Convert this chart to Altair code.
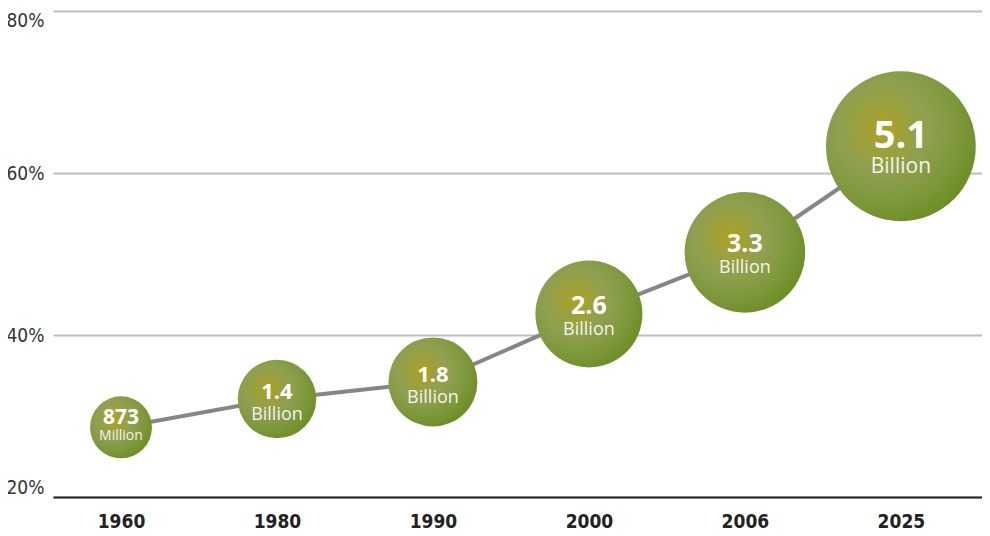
import altair as alt
import pandas as pd

# ---- data ----
years = ["1960", "1980", "1990", "2000", "2006", "2025"]
urban_share = [28.6, 32.1, 34.2, 42.6, 50.2, 63.3]          # percent
population_bn = [0.873, 1.4, 1.8, 2.6, 3.3, 5.1]             # billions
value_labels = ["873", "1.4", "1.8", "2.6", "3.3", "5.1"]
unit_labels = ["Million", "Billion", "Billion", "Billion", "Billion", "Billion"]
y_ticks = [20, 40, 60, 80]

df = pd.DataFrame({
    "year": years,
    "share": urban_share,
    "pop": population_bn,
    "value_label": value_labels,
    "unit_label": unit_labels,
})

AXIS_FONT = "DejaVu Sans Condensed, DejaVu Sans, sans-serif"
BUBBLE_FONT = "Open Sans"

x = alt.X(
    "year:O",
    sort=years,
    scale=alt.Scale(type="point", padding=0.478, align=0.456),
    axis=alt.Axis(
        title=None, labelAngle=0, labelFont=AXIS_FONT, labelFontWeight="bold",
        labelFontSize=19, labelColor="#222222", labelPadding=15, ticks=False,
        domainColor="#222222", domainWidth=2, zindex=1,
    ),
)
y = alt.Y(
    "share:Q",
    scale=alt.Scale(domain=[20, 80]),
    axis=alt.Axis(
        title=None, values=y_ticks, labelExpr="datum.value + '%'",
        labelFont=AXIS_FONT, labelFontSize=19, labelColor="#333333",
        labelPadding=9, labelFlush=True, ticks=False, domain=False,
        gridColor="#bdbdbd", gridWidth=2,
    ),
)

base = alt.Chart(df)

line = base.mark_line(color="#85858a", strokeWidth=4).encode(x=x, y=y)

gradient = alt.RadialGradient(
    gradient="radial",
    x1=0.38, y1=0.38, r1=0.0,
    x2=0.38, y2=0.38, r2=0.78,
    stops=[
        alt.GradientStop(offset=0.0, color="#aea31c"),
        alt.GradientStop(offset=0.15, color="#a0a036"),
        alt.GradientStop(offset=0.38, color="#8fa050"),
        alt.GradientStop(offset=0.65, color="#7c983a"),
        alt.GradientStop(offset=1.0, color="#5f8815"),
    ],
)

bubbles = base.mark_circle(fill=gradient, opacity=1).encode(
    x=x,
    y=y,
    size=alt.Size("pop:Q", scale=alt.Scale(domain=[0, 5.1], range=[0, 22440]), legend=None),
)

# label groups: (filter, number font size, number dy, unit font size, unit dy)
groups = [
    ("datum.pop < 1", 21, -3, 14, 13),
    ("datum.pop >= 1 && datum.pop < 2", 22, 0, 18, 21),
    ("datum.pop >= 2 && datum.pop < 4", 25, 0, 18, 21),
    ("datum.pop >= 4", 38, 2, 21, 27),
]

text_layers = []
for flt, nfs, ndy, ufs, udy in groups:
    text_layers.append(
        base.transform_filter(flt).mark_text(
            font=BUBBLE_FONT, fontWeight="bold", fontSize=nfs, color="#ffffff",
            baseline="alphabetic", align="center", dy=ndy,
        ).encode(x=x, y=y, text="value_label:N")
    )
    text_layers.append(
        base.transform_filter(flt).mark_text(
            font=BUBBLE_FONT, fontSize=ufs, color="#f4f4ea",
            baseline="alphabetic", align="center", dy=udy,
        ).encode(x=x, y=y, text="unit_label:N")
    )

chart = alt.layer(line, bubbles, *text_layers).properties(
    width=929,
    height=486,
    padding={"left": 45, "top": 3, "right": 0, "bottom": 38},
    autosize=alt.AutoSizeParams(type="none"),
    background="#ffffff",
).configure_view(strokeOpacity=0)

chart.save("out.html", embed_options={"renderer": "svg", "actions": False})
